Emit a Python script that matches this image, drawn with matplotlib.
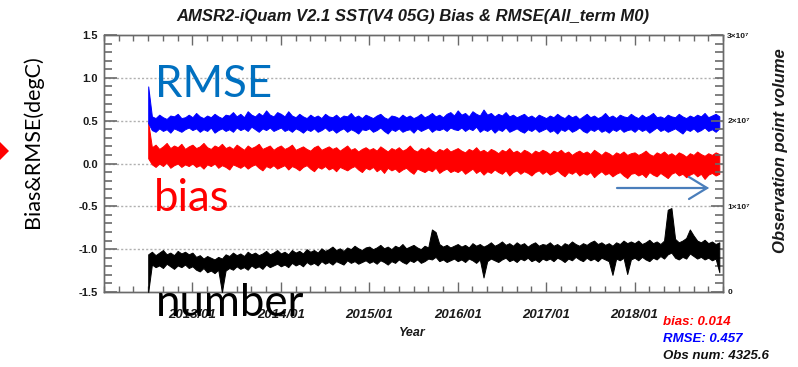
import numpy as np
import matplotlib
matplotlib.use("Agg")
import matplotlib.pyplot as plt
from matplotlib.lines import Line2D
from matplotlib.patches import Polygon
from matplotlib.ticker import MultipleLocator, FixedLocator

# ---------------------------------------------------------------------------
# Half-monthly envelopes (low / high) of the daily series, Jul 2012 - Dec 2018
# ---------------------------------------------------------------------------
start_year = 2012.5
slots_per_year = 24

rmse_hi = [
    0.90, 0.55, 0.53, 0.57, 0.54, 0.52, 0.56, 0.55, 0.58, 0.53, 0.54, 0.57,
    0.54, 0.59, 0.55, 0.53, 0.56, 0.54, 0.58, 0.55, 0.53, 0.57, 0.56, 0.60,
    0.55, 0.58, 0.54, 0.61, 0.57, 0.55, 0.59, 0.56, 0.62, 0.57, 0.55, 0.60,
    0.58, 0.55, 0.61, 0.56, 0.54, 0.58, 0.55, 0.53, 0.57, 0.54, 0.56, 0.53,
    0.58, 0.55, 0.54, 0.57, 0.53, 0.56, 0.55, 0.59, 0.54, 0.56, 0.53, 0.57,
    0.55, 0.53, 0.56, 0.58, 0.54, 0.52, 0.56, 0.55, 0.53, 0.57, 0.54, 0.56,
    0.53, 0.55, 0.58, 0.54, 0.56, 0.59, 0.55, 0.57, 0.54, 0.58, 0.60, 0.56,
    0.62, 0.57, 0.59, 0.55, 0.61, 0.58, 0.56, 0.63, 0.57, 0.59, 0.55, 0.58,
    0.56, 0.60, 0.55, 0.57, 0.54, 0.56, 0.58, 0.54, 0.56, 0.53, 0.57, 0.55,
    0.53, 0.56, 0.54, 0.58, 0.55, 0.53, 0.57, 0.54, 0.56, 0.52, 0.55, 0.58,
    0.54, 0.56, 0.53, 0.55, 0.59, 0.54, 0.56, 0.53, 0.57, 0.55, 0.54, 0.58,
    0.55, 0.53, 0.57, 0.54, 0.56, 0.59, 0.54, 0.55, 0.53, 0.57, 0.55, 0.54,
    0.58, 0.55, 0.53, 0.56, 0.54, 0.57, 0.55, 0.59, 0.54, 0.56, 0.58, 0.55,
]
rmse_lo = [
    0.47, 0.39, 0.37, 0.41, 0.38, 0.40, 0.36, 0.41, 0.39, 0.37, 0.40, 0.42,
    0.39, 0.41, 0.37, 0.40, 0.38, 0.42, 0.36, 0.39, 0.41, 0.38, 0.40, 0.37,
    0.42, 0.39, 0.41, 0.38, 0.43, 0.40, 0.37, 0.41, 0.39, 0.42, 0.38, 0.40,
    0.42, 0.38, 0.40, 0.37, 0.41, 0.39, 0.36, 0.40, 0.38, 0.41, 0.37, 0.39,
    0.42, 0.38, 0.40, 0.36, 0.39, 0.41, 0.37, 0.40, 0.38, 0.35, 0.40, 0.39,
    0.41, 0.37, 0.39, 0.42, 0.38, 0.35, 0.40, 0.38, 0.41, 0.37, 0.39, 0.40,
    0.36, 0.41, 0.38, 0.40, 0.42, 0.37, 0.40, 0.39, 0.41, 0.38, 0.42, 0.40,
    0.39, 0.42, 0.38, 0.41, 0.39, 0.43, 0.37, 0.40, 0.38, 0.41, 0.36, 0.40,
    0.38, 0.42, 0.37, 0.39, 0.41, 0.38, 0.36, 0.40, 0.38, 0.41, 0.37, 0.39,
    0.41, 0.37, 0.39, 0.35, 0.40, 0.38, 0.41, 0.37, 0.39, 0.42, 0.38, 0.36,
    0.40, 0.38, 0.41, 0.37, 0.39, 0.36, 0.40, 0.38, 0.41, 0.37, 0.39, 0.40,
    0.37, 0.41, 0.38, 0.40, 0.36, 0.39, 0.42, 0.38, 0.40, 0.37, 0.39, 0.41,
    0.38, 0.35, 0.40, 0.38, 0.41, 0.37, 0.39, 0.42, 0.38, 0.40, 0.37, 0.41,
]

bias_hi = [
    0.48, 0.19, 0.22, 0.17, 0.20, 0.24, 0.18, 0.21, 0.19, 0.23, 0.17, 0.20,
    0.22, 0.18, 0.20, 0.24, 0.19, 0.17, 0.21, 0.19, 0.23, 0.18, 0.20, 0.17,
    0.22, 0.19, 0.16, 0.21, 0.18, 0.20, 0.23, 0.17, 0.19, 0.21, 0.16, 0.19,
    0.21, 0.17, 0.19, 0.22, 0.16, 0.18, 0.20, 0.17, 0.15, 0.19, 0.21, 0.16,
    0.18, 0.20, 0.17, 0.19, 0.15, 0.18, 0.21, 0.16, 0.18, 0.14, 0.17, 0.19,
    0.16, 0.18, 0.15, 0.20, 0.17, 0.14, 0.18, 0.16, 0.19, 0.15, 0.17, 0.21,
    0.16, 0.14, 0.18, 0.16, 0.19, 0.15, 0.13, 0.17, 0.15, 0.18, 0.14, 0.16,
    0.18, 0.15, 0.13, 0.17, 0.15, 0.19, 0.14, 0.16, 0.13, 0.17, 0.15, 0.12,
    0.16, 0.14, 0.18, 0.13, 0.15, 0.12, 0.16, 0.14, 0.11, 0.15, 0.13, 0.16,
    0.14, 0.11, 0.15, 0.13, 0.16, 0.12, 0.14, 0.10, 0.13, 0.15, 0.12, 0.14,
    0.11, 0.16, 0.13, 0.10, 0.14, 0.12, 0.09, 0.13, 0.11, 0.14, 0.10, 0.12,
    0.13, 0.10, 0.12, 0.15, 0.11, 0.09, 0.13, 0.11, 0.14, 0.10, 0.12, 0.09,
    0.13, 0.11, 0.08, 0.12, 0.10, 0.14, 0.11, 0.09, 0.12, 0.10, 0.13, 0.11,
]
bias_lo = [
    0.06, -0.01, -0.04, 0.00, -0.03, 0.01, -0.05, -0.02, 0.00, -0.04, -0.01, -0.03,
    0.00, -0.04, -0.02, -0.06, -0.01, -0.03, 0.00, -0.05, -0.02, -0.04, -0.07, -0.01,
    -0.03, -0.05, -0.02, -0.06, -0.03, -0.01, -0.05, -0.08, -0.03, -0.05, -0.02, -0.06,
    -0.04, -0.02, -0.07, -0.03, -0.05, -0.08, -0.04, -0.02, -0.06, -0.09, -0.04, -0.06,
    -0.03, -0.07, -0.05, -0.09, -0.04, -0.06, -0.08, -0.05, -0.03, -0.07, -0.10, -0.05,
    -0.07, -0.04, -0.09, -0.06, -0.11, -0.05, -0.08, -0.06, -0.10, -0.07, -0.05, -0.09,
    -0.12, -0.06, -0.08, -0.10, -0.07, -0.09, -0.05, -0.11, -0.08, -0.06, -0.10, -0.08,
    -0.10, -0.07, -0.12, -0.09, -0.06, -0.11, -0.08, -0.13, -0.09, -0.11, -0.07, -0.10,
    -0.12, -0.08, -0.14, -0.10, -0.08, -0.12, -0.09, -0.11, -0.14, -0.10, -0.08, -0.12,
    -0.09, -0.13, -0.11, -0.08, -0.12, -0.15, -0.10, -0.12, -0.09, -0.14, -0.11, -0.13,
    -0.10, -0.16, -0.12, -0.09, -0.13, -0.11, -0.15, -0.12, -0.10, -0.14, -0.17, -0.12,
    -0.11, -0.14, -0.12, -0.16, -0.10, -0.13, -0.15, -0.11, -0.14, -0.17, -0.12, -0.10,
    -0.14, -0.12, -0.16, -0.13, -0.11, -0.15, -0.12, -0.18, -0.13, -0.11, -0.14, -0.12,
]

# observation counts, in millions
number_hi = [
    4.4, 4.7, 4.3, 4.6, 4.9, 4.4, 4.6, 4.3, 4.8, 4.5, 4.7, 4.4,
    4.6, 4.1, 4.3, 3.9, 4.2, 4.0, 3.8, 4.1, 3.9, 4.4, 4.2, 4.6,
    4.3, 4.5, 4.2, 4.7, 4.4, 4.6, 4.3, 4.5, 4.8, 4.4, 4.6, 4.9,
    4.5, 4.7, 4.4, 4.9, 4.6, 4.8, 4.5, 5.0, 4.7, 4.9, 4.6, 5.1,
    4.8, 5.0, 5.3, 4.9, 5.1, 4.8, 5.2, 5.0, 5.4, 5.1, 4.9, 5.2,
    5.3, 5.0, 5.2, 5.5, 5.1, 5.3, 5.0, 5.4, 5.2, 5.6, 5.1, 5.3,
    5.5, 5.2, 5.0, 5.4, 5.2, 7.3, 7.0, 5.6, 5.3, 5.5, 5.2, 5.4,
    5.6, 5.3, 5.5, 5.2, 5.7, 5.4, 5.6, 5.3, 5.5, 5.8, 5.4, 5.6,
    5.9, 5.5, 5.7, 5.4, 5.8, 5.5, 5.7, 5.3, 5.6, 5.8, 5.4, 5.6,
    5.5, 5.8, 5.4, 5.6, 5.3, 5.7, 5.5, 5.9, 5.6, 5.4, 5.7, 5.5,
    5.8, 6.0, 5.6, 5.8, 5.5, 5.7, 5.4, 5.8, 5.6, 6.0, 5.7, 5.9,
    5.7, 6.0, 5.6, 5.8, 6.1, 5.7, 5.9, 5.6, 6.0, 9.6, 9.8, 6.2,
    5.8, 6.0, 6.3, 7.3, 6.6, 6.0, 5.8, 6.1, 5.7, 5.9, 5.6, 5.8,
]
number_lo = [
    0.0, 3.2, 2.9, 3.1, 2.8, 3.3, 3.0, 2.7, 3.1, 2.9, 3.2, 2.8,
    3.0, 2.6, 2.4, 2.8, 2.3, 2.5, 2.2, 2.6, 0.0, 2.5, 2.8, 2.6,
    3.0, 2.7, 2.9, 2.6, 3.1, 2.8, 3.0, 2.7, 3.2, 2.9, 3.1, 3.3,
    3.0, 3.2, 2.9, 3.4, 3.1, 3.3, 3.0, 3.5, 3.2, 3.4, 3.1, 3.6,
    3.3, 3.5, 3.2, 3.6, 3.4, 3.2, 3.7, 3.4, 3.6, 3.3, 3.5, 3.7,
    3.4, 3.6, 3.3, 3.7, 3.5, 3.2, 3.6, 3.4, 3.8, 3.5, 3.3, 3.7,
    3.5, 3.8, 3.4, 3.6, 3.9, 3.8, 4.1, 3.6, 3.8, 3.5, 3.7, 3.9,
    3.6, 3.8, 3.5, 3.9, 3.7, 3.4, 3.8, 1.7, 3.6, 3.9, 3.7, 3.5,
    3.8, 4.0, 3.6, 3.8, 3.5, 3.9, 3.7, 4.0, 3.6, 3.8, 3.5, 3.9,
    3.7, 3.9, 3.6, 4.0, 3.8, 3.5, 3.9, 3.7, 4.1, 3.8, 3.6, 4.0,
    3.7, 3.9, 3.6, 4.0, 3.8, 3.6, 2.0, 3.9, 3.7, 4.0, 2.1, 3.8,
    4.0, 3.7, 4.1, 3.8, 3.6, 4.0, 3.8, 4.2, 3.9, 4.4, 4.6, 4.0,
    3.8, 4.1, 3.9, 4.5, 4.2, 3.9, 4.1, 3.8, 4.0, 3.7, 3.9, 2.3,
]

year_ticks = [2013, 2014, 2015, 2016, 2017, 2018]
year_labels = ["2013/01", "2014/01", "2015/01", "2016/01", "2017/01", "2018/01"]
left_ticks = [-1.5, -1.0, -0.5, 0.0, 0.5, 1.0, 1.5]
right_ticks = [0, 10, 20, 30]
right_labels = ["0", "1\u00d710\u2077", "2\u00d710\u2077", "3\u00d710\u2077"]

title = "AMSR2-iQuam V2.1 SST(V4 05G) Bias & RMSE(All_term M0)"
stats = [("bias: 0.014", "#ff0000"), ("RMSE: 0.457", "#0000ff"),
         ("Obs num: 4325.6", "#111111")]

slot_time = start_year + np.arange(len(rmse_hi)) / slots_per_year


def draw_band(axis, lo, hi, color):
    """Solid envelope of a noisy daily trace, with ragged edges."""
    axis.fill_between(slot_time, lo, hi, facecolor=color, edgecolor=color,
                      linewidth=0.7, zorder=3)


# ---------------------------------------------------------------------------
W, H = 798, 367
fig = plt.figure(figsize=(W / 100, H / 100), dpi=100)


def fx(px):
    return px / W


def fy(py):
    return 1 - py / H


idl_font = ["Liberation Sans", "DejaVu Sans"]
ink = "#1a1a1a"
frame = "#6a6a6a"

ax = fig.add_axes([fx(104), fy(292), fx(723) - fx(104), fy(35) - fy(292)])
ax.set_xlim(2012.0, 2019.0)
ax.set_ylim(-1.5, 1.5)

for g in [-1.0, -0.5, 0.0, 0.5, 1.0]:
    ax.axhline(g, color="#b0b0b0", lw=1.0, ls=(0, (1.5, 1.5)), zorder=1)

draw_band(ax, bias_lo, bias_hi, "#ff0000")
draw_band(ax, rmse_lo, rmse_hi, "#0000ff")

ax.xaxis.set_major_locator(FixedLocator(year_ticks))
ax.set_xticklabels(year_labels)
ax.xaxis.set_minor_locator(MultipleLocator(1 / 6))
ax.yaxis.set_major_locator(FixedLocator(left_ticks))
ax.yaxis.set_minor_locator(MultipleLocator(0.1))
ax.set_yticklabels(["%.1f" % x for x in left_ticks])

ax.tick_params(axis="x", which="both", direction="in", top=True, bottom=True,
               color=frame, width=1.0)
ax.tick_params(axis="x", which="major", length=7, pad=12, labelsize=9.5)
ax.tick_params(axis="x", which="minor", length=4)
ax.tick_params(axis="y", which="both", direction="in", left=True, right=False,
               color=frame, width=1.2)
ax.tick_params(axis="y", which="major", length=9, pad=4.5, labelsize=8)
ax.tick_params(axis="y", which="minor", length=6)
for lab in ax.get_xticklabels():
    lab.set_fontfamily(idl_font)
    lab.set_fontweight("bold")
    lab.set_fontstyle("italic")
    lab.set_color(ink)
for lab in ax.get_yticklabels():
    lab.set_fontfamily(idl_font)
    lab.set_fontweight("bold")
    lab.set_color(ink)
for s in ax.spines.values():
    s.set_color(frame)
    s.set_linewidth(1.0)

ax2 = ax.twinx()
ax2.set_ylim(0, 30)
draw_band(ax2, number_lo, number_hi, "black")
ax2.yaxis.set_major_locator(FixedLocator(right_ticks))
ax2.set_yticklabels(right_labels)
ax2.yaxis.set_minor_locator(MultipleLocator(1))
ax2.tick_params(axis="y", which="both", direction="in", color=frame, width=1.2)
ax2.tick_params(axis="y", which="major", length=9, pad=3, labelsize=6)
ax2.tick_params(axis="y", which="minor", length=6)
for lab in ax2.get_yticklabels():
    lab.set_fontfamily(idl_font)
    lab.set_fontweight("bold")
    lab.set_color(ink)
for s in ax2.spines.values():
    s.set_color(frame)
    s.set_linewidth(1.0)

# titles and axis names
fig.text(fx(413), fy(17), title, ha="center", va="center", fontsize=12,
         family=idl_font, weight="bold", style="italic", color=ink)
fig.text(fx(412), fy(333), "Year", ha="center", va="center", fontsize=9,
         family=idl_font, weight="bold", style="italic", color=ink)
fig.text(fx(781), fy(151), "Observation point volume", ha="center", va="center",
         rotation=90, fontsize=12, family=idl_font, weight="bold",
         style="italic", color=ink)
for i, (s, c) in enumerate(stats):
    fig.text(fx(663), fy(322 + 17 * i), s, ha="left", va="center", fontsize=9.5,
             family=idl_font, weight="bold", style="italic", color=c)

# slide annotations
fig.text(fx(33), fy(142), "Bias&RMSE(degC)", ha="center", va="center",
         rotation=90, fontsize=15.5, family="Lato", color="black")
fig.text(fx(155), fy(97), "RMSE", ha="left", va="baseline", fontsize=31.5,
         family="Lato", color="#0070c0")
fig.text(fx(154), fy(211), "bias", ha="left", va="baseline", fontsize=31.5,
         family="Lato", color="#ff0000")
fig.text(fx(156), fy(316), "number", ha="left", va="baseline", fontsize=31.5,
         family="Lato", color="black")

fig.add_artist(Polygon([(fx(-6), fy(136)), (fx(9), fy(151)), (fx(-6), fy(166))],
                       closed=True, transform=fig.transFigure,
                       facecolor="#ff0000", edgecolor="none"))
arrow_c = "#4a7ebb"
for xs, ys in [([617, 707], [188, 188]), ([689, 707, 689], [177, 188, 199])]:
    fig.add_artist(Line2D([fx(x) for x in xs], [fy(y) for y in ys],
                          transform=fig.transFigure, color=arrow_c, lw=1.6,
                          solid_capstyle="round", solid_joinstyle="miter"))

fig.savefig("out.png", dpi=100)
